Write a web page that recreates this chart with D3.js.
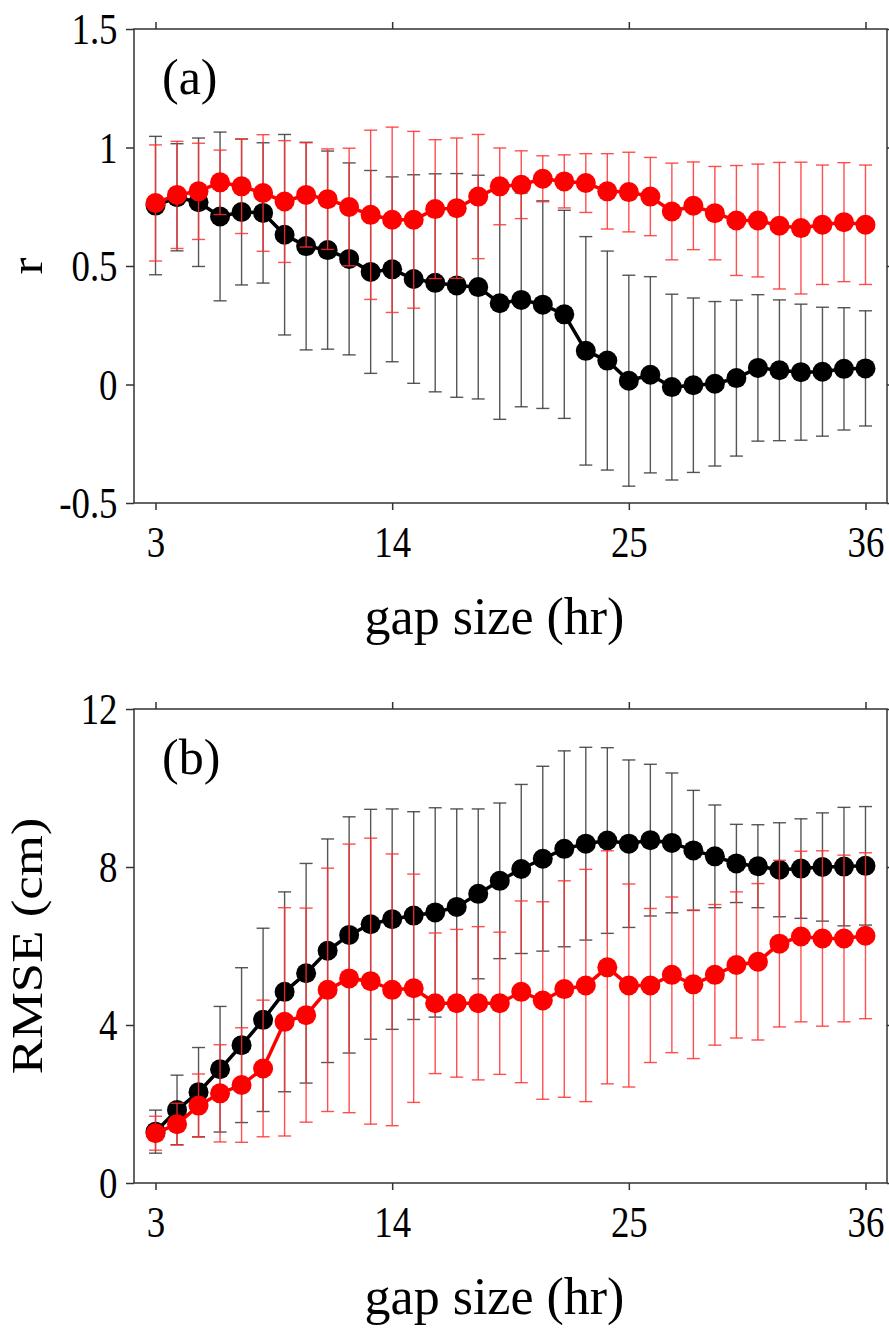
<!DOCTYPE html>
<html>
<head>
<meta charset="utf-8">
<script src="https://cdn.jsdelivr.net/npm/d3@7/dist/d3.min.js"></script>
<style>
  body { margin: 0; background: #fff; }
  svg text { font-family: "Liberation Serif", "Times New Roman", serif !important; fill: #000; }
</style>
</head>
<body>
<svg id="fig" width="889" height="1328" font-family="Liberation Serif, serif"></svg>
<script>
// Gap sizes (hours)
const gapHours = [3,4,5,6,7,8,9,10,11,12,13,14,15,16,17,18,19,20,21,22,23,24,25,26,27,28,29,30,31,32,33,34,35,36];

// Panel (a): correlation r — black series mean / std
const rBlackMean = [0.755,0.790,0.769,0.709,0.728,0.724,0.632,0.584,0.567,0.530,0.475,0.486,0.445,0.429,0.418,0.411,
                    0.343,0.357,0.337,0.296,0.142,0.101,0.016,0.041,-0.011,-0.003,0.003,0.027,0.070,0.060,0.052,0.054,0.066,0.068];
const rBlackStd  = [0.292,0.226,0.271,0.356,0.308,0.296,0.423,0.438,0.418,0.405,0.428,0.390,0.440,0.460,0.472,0.472,
                    0.490,0.451,0.438,0.439,0.482,0.462,0.445,0.414,0.392,0.368,0.347,0.329,0.309,0.297,0.287,0.272,0.258,0.243];
// Panel (a): red series mean / std
const rRedMean = [0.766,0.800,0.815,0.853,0.836,0.808,0.772,0.800,0.782,0.749,0.716,0.695,0.695,0.740,0.744,0.793,
                  0.836,0.843,0.868,0.857,0.850,0.815,0.812,0.793,0.730,0.754,0.723,0.692,0.692,0.670,0.660,0.674,0.685,0.674];
const rRedStd  = [0.245,0.226,0.203,0.136,0.199,0.246,0.257,0.220,0.212,0.248,0.357,0.391,0.373,0.293,0.296,0.262,
                  0.162,0.143,0.097,0.112,0.124,0.159,0.168,0.165,0.204,0.185,0.197,0.232,0.238,0.267,0.278,0.252,0.251,0.252];

// Panel (b): RMSE (cm) — black series mean / std
const rmseBlackMean = [1.30,1.85,2.30,2.88,3.49,4.13,4.84,5.31,5.88,6.28,6.55,6.68,6.77,6.85,6.99,7.32,
                       7.65,7.95,8.21,8.46,8.59,8.67,8.59,8.68,8.61,8.42,8.27,8.09,8.02,7.93,7.96,8.00,8.01,8.03];
const rmseBlackStd  = [0.545,0.88,1.13,1.59,1.96,2.32,2.53,2.78,2.83,2.99,2.91,2.79,2.63,2.65,2.48,2.15,
                       1.97,2.14,2.34,2.48,2.44,2.35,2.12,1.92,1.77,1.52,1.30,0.99,1.05,1.19,1.26,1.37,1.50,1.50];
// Panel (b): red series mean / std
const rmseRedMean = [1.26,1.49,1.96,2.27,2.48,2.90,4.08,4.25,4.89,5.18,5.11,4.89,4.93,4.55,4.55,4.55,
                     4.55,4.84,4.62,4.91,5.00,5.46,5.00,5.00,5.27,5.03,5.27,5.52,5.60,6.06,6.24,6.19,6.19,6.26];
const rmseRedStd  = [0.43,0.53,0.80,1.23,1.45,1.73,2.89,2.71,3.08,3.40,3.62,3.44,2.89,1.78,1.87,1.94,
                     1.80,2.30,2.50,2.74,2.94,2.95,2.57,1.95,1.97,1.88,1.78,1.85,1.98,2.11,2.16,2.22,2.11,2.10];

// Axis ticks
const xTicks = [3,14,25,36];
const rTicks = [-0.5,0,0.5,1,1.5];
const rTickLabels = ["-0.5","0","0.5","1","1.5"];
const rmseTicks = [0,4,8,12];
const rmseTickLabels = ["0","4","8","12"];

const svg = d3.select("#fig");
const frameColor = "#333";
const left = 134, right = 887;
const serif = '"Liberation Serif", "Times New Roman", serif';
const tickStretch = "scale(0.97,1.15)"; // tall, narrow tick numerals

const panels = [
  { top: 29,  bottom: 503,  domain: [-0.5, 1.5], ticks: rTicks, tickLabels: rTickLabels,
    label: "(a)", yTitle: "r", yTitleSize: 46, yTitleStretch: 1.1,
    series: [
      { mean: rBlackMean, std: rBlackStd, color: "#000", err: "#383838" },
      { mean: rRedMean,   std: rRedStd,   color: "#ff0000", err: "#ff3030" }
    ] },
  { top: 709, bottom: 1183, domain: [0, 12], ticks: rmseTicks, tickLabels: rmseTickLabels,
    label: "(b)", yTitle: "RMSE (cm)", yTitleSize: 44, yTitleStretch: 1.2,
    series: [
      { mean: rmseBlackMean, std: rmseBlackStd, color: "#000", err: "#383838" },
      { mean: rmseRedMean,   std: rmseRedStd,   color: "#ff0000", err: "#ff3030" }
    ] }
];

const x = d3.scaleLinear().domain([2, 37]).range([left, right]);

panels.forEach(p => {
  const y = d3.scaleLinear().domain(p.domain).range([p.bottom, p.top]);
  const g = svg.append("g");

  // frame
  g.append("rect")
    .attr("x", left).attr("y", p.top)
    .attr("width", right - left).attr("height", p.bottom - p.top)
    .attr("fill", "none").attr("stroke", frameColor).attr("stroke-width", 1.5);

  // axes with outward ticks on all four sides
  const axB = g.append("g").attr("transform", `translate(0,${p.bottom})`)
    .call(d3.axisBottom(x).tickValues(xTicks).tickSizeInner(7).tickSizeOuter(0).tickPadding(13).tickFormat(d3.format("d")));
  const axT = g.append("g").attr("transform", `translate(0,${p.top})`)
    .call(d3.axisTop(x).tickValues(xTicks).tickSizeInner(7).tickSizeOuter(0).tickFormat(""));
  const axL = g.append("g").attr("transform", `translate(${left},0)`)
    .call(d3.axisLeft(y).tickValues(p.ticks).tickSizeInner(8).tickSizeOuter(0).tickPadding(9)
      .tickFormat((d, i) => p.tickLabels[i]));
  const axR = g.append("g").attr("transform", `translate(${right},0)`)
    .call(d3.axisRight(y).tickValues(p.ticks).tickSizeInner(7).tickSizeOuter(0).tickFormat(""));

  [axB, axT, axL, axR].forEach(a => {
    a.attr("font-family", serif);
    a.select(".domain").remove();
    a.selectAll(".tick line").attr("stroke", frameColor).attr("stroke-width", 1.5);
    a.selectAll("text").style("font-family", serif).attr("fill", "#000");
  });
  axB.selectAll("text").attr("font-size", 38).attr("dy", "0.71em").attr("transform", tickStretch);
  axL.selectAll("text").attr("font-size", 38).attr("dy", "0.34em").attr("transform", tickStretch);

  // axis titles
  g.append("text")
    .attr("x", (left + right) / 2 - 16).attr("y", p.bottom + 131)
    .attr("text-anchor", "middle").attr("font-size", 52)
    .style("font-family", serif)
    .text("gap size (hr)");
  g.append("text")
    .attr("transform", `translate(42,${(p.top + p.bottom) / 2}) rotate(-90) scale(${p.yTitleStretch},1)`)
    .attr("text-anchor", "middle").attr("font-size", p.yTitleSize)
    .style("font-family", serif)
    .text(p.yTitle);

  // panel tag
  g.append("text")
    .attr("x", 162).attr("y", p.top + 65)
    .attr("font-size", 50)
    .style("font-family", serif)
    .text(p.label);

  // series: error bars, connecting line, markers
  const cap = 6.5;
  p.series.forEach(s => {
    const pts = gapHours.map((h, i) => ({ h, m: s.mean[i], sd: s.std[i] }));
    const eg = g.append("g").attr("stroke", s.err).attr("stroke-width", 1.4).attr("stroke-opacity", 0.85);
    pts.forEach(d => {
      const cx = x(d.h), y0 = y(d.m - d.sd), y1 = y(d.m + d.sd);
      eg.append("line").attr("x1", cx).attr("x2", cx).attr("y1", y0).attr("y2", y1);
      eg.append("line").attr("x1", cx - cap).attr("x2", cx + cap).attr("y1", y0).attr("y2", y0);
      eg.append("line").attr("x1", cx - cap).attr("x2", cx + cap).attr("y1", y1).attr("y2", y1);
    });
    g.append("path")
      .datum(pts)
      .attr("fill", "none").attr("stroke", s.color).attr("stroke-width", 3.5)
      .attr("d", d3.line().x(d => x(d.h)).y(d => y(d.m)));
    g.append("g").selectAll("circle").data(pts).join("circle")
      .attr("cx", d => x(d.h)).attr("cy", d => y(d.m)).attr("r", 10)
      .attr("fill", s.color);
  });
});
</script>
</body>
</html>
